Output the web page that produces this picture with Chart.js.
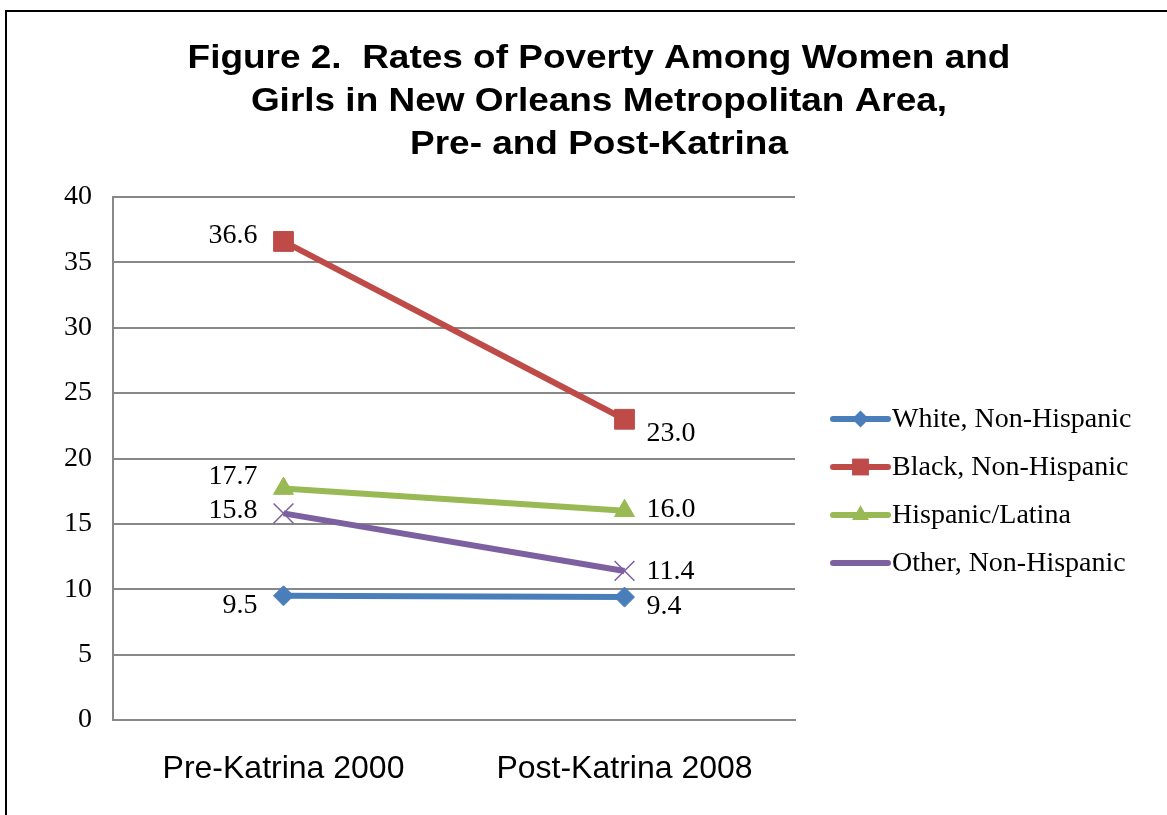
<!DOCTYPE html>
<html>
<head>
<meta charset="utf-8">
<script src="https://cdn.jsdelivr.net/npm/chart.js@4/dist/chart.umd.min.js"></script>
<style>
    html, body { margin: 0; padding: 0; background: #fff; overflow: hidden; }
    #wrap { position: relative; width: 1167px; height: 815px; }
    #frame { position: absolute; left: 5px; top: 10px; width: 1300px; height: 1000px; border-left: 2px solid #000; border-top: 2px solid #000; pointer-events: none; }
    canvas { position: absolute; left: 0; top: 0; }
</style>
</head>
<body>
<div id="wrap">
    <canvas id="chart" width="1167" height="815"></canvas>
    <div id="frame"></div>
</div>
<script>
// DATA
const categories = ["Pre-Katrina 2000", "Post-Katrina 2008"];
const seriesNames = ["White, Non-Hispanic", "Black, Non-Hispanic", "Hispanic/Latina", "Other, Non-Hispanic"];
const white = [9.5, 9.4];
const black = [36.6, 23.0];
const hispanic = [17.7, 16.0];
const other = [15.8, 11.4];
const yTicks = [0, 5, 10, 15, 20, 25, 30, 35, 40];
const titleLines = ["Figure 2.  Rates of Poverty Among Women and", "Girls in New Orleans Metropolitan Area,", "Pre- and Post-Katrina"];

// STYLE
const colors = ["#4a7ebb", "#be4b48", "#98b954", "#7d60a0"];
const markers = ["rectRot", "rect", "triangle", "crossRot"];
const markerSize = [10, 14, 11.5, 14];
// label nudges: [dy first point, dy second point]
const labelDy = [[10, 10], [-6, 14], [-12, -1], [-3, 1]];
const serif = "'Liberation Serif', 'Times New Roman', serif";
const sans = "'Liberation Sans', Arial, sans-serif";

const allSeries = [white, black, hispanic, other];

// title, a bit wider than normal like the original
const wideTitle = {
    id: 'wideTitle',
    afterDraw(chart) {
        const ctx = chart.ctx;
        ctx.save();
        ctx.font = "bold 33px " + sans;
        ctx.fillStyle = "#000";
        ctx.textAlign = "center";
        ctx.textBaseline = "alphabetic";
        titleLines.forEach(function (line, i) {
            ctx.save();
            ctx.translate(599, 68 + i * 43);
            ctx.scale(1.12, 1);
            ctx.fillText(line, 0, 0);
            ctx.restore();
        });
        ctx.restore();
    }
};

// point value labels
const valueLabels = {
    id: 'valueLabels',
    afterDatasetsDraw(chart) {
        const ctx = chart.ctx;
        ctx.save();
        ctx.font = "28px " + serif;
        ctx.fillStyle = "#000";
        ctx.textBaseline = "middle";
        chart.data.datasets.forEach(function (ds, d) {
            const meta = chart.getDatasetMeta(d);
            meta.data.forEach(function (pt, i) {
                const txt = ds.data[i].toFixed(1);
                if (i === 0) {
                    ctx.textAlign = "right";
                    ctx.fillText(txt, pt.x - 26, pt.y + labelDy[d][i]);
                } else {
                    ctx.textAlign = "left";
                    ctx.fillText(txt, pt.x + 22, pt.y + labelDy[d][i]);
                }
            });
        });
        ctx.restore();
    }
};

// legend on the right, line + marker
const sideLegend = {
    id: 'sideLegend',
    afterDraw(chart) {
        const ctx = chart.ctx;
        const x0 = 833, x1 = 888, top = 419, step = 48;
        ctx.save();
        chart.data.datasets.forEach(function (ds, d) {
            const y = top + d * step;
            ctx.strokeStyle = ds.borderColor;
            ctx.lineWidth = 6;
            ctx.lineCap = "round";
            ctx.beginPath();
            ctx.moveTo(x0, y);
            ctx.lineTo(x1, y);
            ctx.stroke();
            ctx.fillStyle = ds.pointBackgroundColor;
            ctx.strokeStyle = ds.pointBorderColor;
            ctx.lineWidth = ds.pointBorderWidth;
            ctx.lineCap = "butt";
            Chart.helpers.drawPoint(ctx, { pointStyle: ds.pointStyle, radius: ds.pointRadius * 0.85, rotation: 0 }, (x0 + x1) / 2, y);
            ctx.fillStyle = "#000";
            ctx.font = "28px " + serif;
            ctx.textAlign = "left";
            ctx.textBaseline = "middle";
            ctx.fillText(ds.label, x1 + 4, y + 1);
        });
        ctx.restore();
    }
};

const datasets = allSeries.map(function (values, d) {
    return {
        label: seriesNames[d],
        data: values,
        borderColor: colors[d],
        backgroundColor: colors[d],
        borderWidth: 6,
        pointStyle: markers[d],
        pointRadius: markerSize[d],
        pointHoverRadius: markerSize[d],
        pointBackgroundColor: colors[d],
        pointBorderColor: colors[d],
        pointBorderWidth: d === 3 ? 1.5 : 1,
        tension: 0
    };
});

new Chart(document.getElementById("chart"), {
    type: 'line',
    data: { labels: categories, datasets: datasets },
    plugins: [valueLabels, sideLegend, wideTitle],
    options: {
        responsive: false,
        animation: false,
        events: [],
        layout: { padding: { left: 0, right: 372, top: 197, bottom: 0 } },
        plugins: {
            legend: { display: false },
            tooltip: { enabled: false },
            title: { display: false }
        },
        scales: {
            x: {
                offset: true,
                afterFit: function (scale) { scale.height = 95; },
                grid: { display: false, drawTicks: false },
                border: { display: true, color: "#888", width: 2 },
                ticks: { color: "#000", font: { family: sans, size: 32 }, padding: 30 }
            },
            y: {
                min: 0,
                max: 40,
                afterBuildTicks: function (scale) {
                    scale.ticks = yTicks.map(function (v) { return { value: v }; });
                },
                afterFit: function (scale) { scale.width = 113; },
                grid: { color: "#888", lineWidth: 2, drawTicks: false },
                border: { display: true, color: "#888", width: 2 },
                ticks: { color: "#000", font: { family: serif, size: 28 }, padding: 21 }
            }
        }
    }
});
</script>
</body>
</html>
